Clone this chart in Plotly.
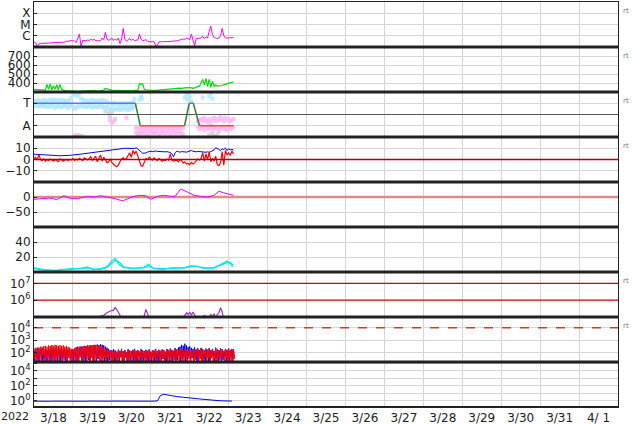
import plotly.graph_objects as go
from plotly.subplots import make_subplots
import pandas as pd

BASE = pd.Timestamp('2022-03-18')

def tx(hours):
    return [BASE + pd.Timedelta(hours=float(h)) for h in hours]

# ---------------- data ----------------
day_labels = ['3/18', '3/19', '3/20', '3/21', '3/22', '3/23', '3/24', '3/25', '3/26',
              '3/27', '3/28', '3/29', '3/30', '3/31', '4/ 1']
year_label = '2022'

# Panel 1: X-ray flux, log10(W/m2), hourly from 3/18 00:00
xray_log = [-6.55, -6.62, -6.95, -6.75, -6.68, -6.66, -6.66, -6.65, -6.66, -6.65,
            -6.64, -6.64, -6.63, -6.62, -6.62, -6.6, -6.6, -6.58, -6.56, -6.56,
            -6.48, -6.5, -6.44, -6.46, -6.5, -6.46, -6.6, -6.3, -5.85, -6.95,
            -6.42, -6.42, -6.44, -6.38, -6.42, -6.3, -6.4, -6.32, -6.43, -6.45,
            -6.42, -6.44, -6.2, -6.35, -5.7, -6.3, -6.4, -6.35, -6.2, -6.42,
            -6.3, -6.4, -6.2, -6.7, -6.3, -5.35, -6.3, -6.5, -6.35, -6.25,
            -6.4, -6.3, -6.45, -6.38, -6.4, -5.85, -6.3, -6.45, -6.4, -6.35,
            -6.48, -6.5, -6.55, -6.5, -6.52, -6.9, -6.85, -6.55, -6.5, -6.52,
            -6.55, -6.5, -6.53, -6.52, -6.5, -6.53, -6.5, -6.48, -6.45, -6.42,
            -6.35, -6.32, -6.3, -6.32, -6.2, -6.3, -6.35, -5.85, -6.3, -6.9,
            -6.25, -6.25, -6.22, -6.2, -6.05, -6.25, -6.1, -6.2, -5.6, -5.15,
            -5.9, -6.15, -6.2, -6.25, -6.2, -6.0, -5.35, -6.0, -6.2, -6.22,
            -6.2, -6.18, -6.17, -6.17]

# Panel 2: solar wind speed km/s, hourly
wind_speed = [330, 328, 326, 325, 322, 320, 318, 320,
              385, 330, 390, 325, 370, 330, 380, 325, 385, 330, 320,
              315, 312, 310, 312, 310, 308, 310, 312, 310, 308, 310, 312, 314, 312,
              310, 312, 314, 316, 318, 315, 312, 314,
              315, 318, 320, 340, 335, 322, 318, 316, 315, 318, 316, 314, 316, 318,
              316, 315, 314, 316, 318, 316, 315, 317, 318, 316,
              395, 385, 392, 330,
              325, 322, 320, 320, 318, 316, 318, 320, 318, 316, 318, 320, 322, 325,
              328, 330, 332, 335, 335, 338, 340, 342,
              340, 345, 342, 348, 345, 350, 346, 340, 345, 355, 360, 365,
              400, 440, 380, 450, 360, 440, 350, 420, 360, 380, 365,
              365, 368, 372, 380, 385, 392, 398, 405, 410, 412]

# Panel 3: IMF sector (T=+1, A=-1)
sector_hours = [0, 62.5, 65.5, 92.8, 95.7, 98.2, 102, 123]
sector_vals = [1, 1, -1, -1, 1, 1, -1, -1]
toward_a = [1.2, 1.1, 1.25, 1.15, 1.2, 1.1, 1.3, 1.2, 1.15, 1.25, 1.3, 1.2, 1.35, 1.25,
            1.2, 1.3, 1.15, 1.25, 1.3, 1.2, 1.1, 1.25, 1.3, 1.5, 1.9, 1.7, 1.8, 1.6,
            1.9, 1.4, 1.3, 1.2, 1.25, 1.15, 1.2, 1.1, 1.3, 1.2, 1.15, 1.25, 1.1, 1.2,
            1.3, 1.15, 1.2, 1.1, 1.0, 0.95, 1.0, 0.9, 1.05, 0.95, 0.9, 1.0, 0.85,
            0.95, 1.0, 0.9, 0.95, 1.0, 0.9, 1.1, 1.4]
toward_b = [0.8, 0.75, 0.85, 0.7, 0.8, 0.9, 0.75, 0.7, 0.8, 0.65, 0.75, 0.8, 0.7, 0.6,
            0.75, 0.8, 0.7, 0.65, 0.8, 0.75, 0.7, 0.6, 0.8, 0.9, 0.7, 0.5, 0.6, 0.8,
            0.7, 0.75, 0.8, 0.7, 0.65, 0.75, 0.8, 0.7, 0.6, 0.75, 0.7, 0.65, 0.8, 0.7,
            0.75, 0.6, 0.7, 0.65, 0.5, 0.45, 0.55, 0.4, 0.5, 0.45, 0.55, 0.4, 0.5,
            0.45, 0.6, 0.5, 0.4, 0.55, 0.5, 0.6, 0.7]
toward_extra_h = [65, 66, 66.5, 93, 94, 95, 96, 97, 104, 108, 109, 110]
toward_extra_v = [1.3, 1.6, 1.4, 1.5, 1.8, 1.3, 1.6, 1.2, 1.5, 1.6, 1.9, 1.4]
away1_start = 63
away1_a = [-1.2, -1.1, -1.15, -1.3, -1.1, -1.2, -1.15, -1.25, -1.1, -1.2, -1.3, -1.15,
           -1.1, -1.25, -1.2, -1.1, -1.3, -1.2, -1.15, -1.1, -1.25, -1.2, -1.1, -1.3,
           -1.15, -1.2, -1.1, -1.25, -1.2, -1.15]
away1_b = [-1.6, -1.7, -1.5, -1.8, -1.6, -1.5, -1.7, -1.6, -1.8, -1.5, -1.6, -1.7,
           -1.5, -1.6, -1.8, -1.7, -1.5, -1.6, -1.7, -1.5, -1.6, -1.8, -1.6, -1.5,
           -1.7, -1.6, -1.5, -1.7, -1.6, -1.8]
away2_start = 101
away2_a = [-0.6, -0.5, -0.4, -0.6, -0.3, -0.5, -0.7, -0.4, -0.6, -0.5, -0.3, -0.6,
           -0.4, -0.5, -0.2, -0.4, -0.6, -0.3, -0.5, -0.4, -0.6, -0.5, -0.4]
away2_b = [-1.1, -1.3, -1.0, -1.2, -1.4, -1.1, -1.3, -1.2, -1.0, -1.4, -1.2, -1.1,
           -1.3, -1.5, -1.2, -1.1, -1.3, -1.2, -1.4, -1.1, -1.3, -1.2, -1.1]
away_extra_h = [25, 26, 27, 47, 48, 49, 57]
away_extra_v = [-1.9, -1.85, -1.95, -0.5, -0.8, -0.6, -0.3]
gray_h = [28, 29, 30, 44, 46, 47, 48, 50, 64, 66, 67, 69, 71, 108, 110, 111, 113]
gray_v = [-1.85, -1.9, -1.95, 0.3, 0.1, -0.2, 0.2, -0.4, -1.7, -1.8, -1.6, -1.75,
          -1.85, -1.8, -1.7, -1.9, -1.75]

# Panel 4: IMF Bt (blue) and Bz (red), nT, hourly
bt = [4.7, 4.6, 4.5, 4.3, 4.1, 4.0, 3.8, 3.6, 3.5, 3.4, 3.4, 3.5, 3.3, 3.4, 3.5, 3.4,
      3.3, 3.4, 3.6, 3.5, 3.4, 3.6, 3.7, 3.8, 3.7, 3.9, 4.1, 4.3, 4.6, 4.8, 5.0, 5.2,
      5.4, 5.6, 5.8, 6.0, 6.2, 6.4, 6.6, 6.8, 7.0, 7.2, 7.3, 7.5, 7.6, 7.9, 8.4, 8.8,
      9.0, 9.2, 9.4, 9.5, 9.7, 9.8, 10.0, 10.1, 10.0, 10.0, 9.9, 9.8, 9.6, 9.4, 9.8,
      10.5, 9.5, 8.6, 6.8, 5.6, 5.4, 5.8, 6.6, 7.2, 7.4, 7.0, 7.3, 7.6, 7.2, 7.0, 7.4,
      7.2, 7.0, 6.8, 7.0, 6.6, 6.2, 5.0, 2.5, 6.0, 7.5, 7.0, 6.5, 7.0, 7.2, 6.8, 6.5,
      7.0, 7.6, 8.0, 7.4, 7.0, 6.8, 7.2, 7.0, 6.6, 6.2, 6.0, 6.4, 6.8, 6.5, 7.0, 7.5,
      8.5, 10.5, 10.0, 9.0, 8.0, 9.5, 8.8, 10.2, 8.0, 9.5, 8.6, 9.0, 8.4]
bz = [0.5, 2.0, -0.5, 4.5, 0.0, -1.0, 0.5, -1.5, 0.0, -1.0, 0.5, -0.5, -1.5, 0.0,
      -1.0, -2.0, 0.5, -0.5, -1.5, -0.5, 0.0, -1.0, 0.0, -0.5, 1.0, -1.0, 0.5, -0.5,
      1.0, 0.0, -1.0, 1.5, 0.5, -0.5, 1.0, 2.5, -1.0, 1.5, 3.0, -2.0, 1.0, 4.0, -1.5,
      2.0, 0.0, -3.0, -2.0, 0.5, -2.5, -4.5, -5.5, -6.5, -5.0, -2.0, 0.5, 1.5, 0.0,
      1.0, 3.0, 6.0, 2.0, 8.0, 5.0, 7.5, 3.0, -1.0, -5.5, -6.0, -2.0, 1.0, 0.0, 2.0,
      0.5, -0.5, 1.5, 0.0, -1.0, 1.0, 0.0, -1.5, -0.5, -1.0, 0.5, -0.5, 5.0, -0.5,
      -1.5, -1.0, -0.5, -2.0, 0.0, -1.0, -3.0, -2.0, -4.0, -3.5, -4.5, -2.5, -4.0,
      -3.0, -1.5, 0.5, -0.5, 1.0, 6.0, -1.5, 5.0, 0.0, 6.5, -2.0, 1.0, -1.5, 3.0,
      -4.5, -5.5, -3.0, 7.0, -5.0, 8.0, 4.0, 6.0, 3.5, 7.5, 5.0]

# Panel 5: Dst-like index (nT)
dst_hours = [0, 6, 10, 14, 18.5, 22.6, 26.7, 32.9, 37, 41, 45, 50, 54.5, 57.5, 61.6,
             65.8, 68.8, 72, 76, 80, 84, 87, 90.4, 94.5, 98.6, 102.7, 107, 111, 114,
             117, 120, 123]
dst_vals = [-7.8, -5.6, -3.3, -8.9, 4.4, -5.6, -5.6, 2.2, 0, 4.4, 0, -5.6, -13, -5.6,
            2.2, 5.6, 4.4, -7.8, 2.2, 5.6, 2.2, 2.2, 26.7, 16.7, 5.6, 2.2, 0, 5.6, 19,
            14, 11, 5.6]

# Panel 6: two cyan series
cyan_hours = [0, 3.9, 8, 14.2, 20.3, 24.4, 28.5, 32.7, 36.8, 40.9, 45, 48, 50.1, 52.2,
              55.3, 59.4, 63.5, 67.6, 70.7, 73.8, 80, 86.1, 92.3, 96.4, 100.5, 104.6,
              110.7, 115.9, 119, 121, 122.7]
cyan_a = [5.8, 4.0, 2.2, 2.7, 3.6, 4.9, 4.4, 6.7, 3.1, 4.4, 7.1, 14.7, 18.2, 10.2,
          5.8, 5.8, 4.9, 6.7, 10.2, 4.0, 3.6, 5.8, 4.9, 8.4, 7.1, 5.8, 4.9, 11.6,
          14.7, 10.2, 7.1]
cyan_b = [4.6, 3.2, 2.8, 2.0, 3.0, 4.0, 5.2, 5.6, 3.8, 3.6, 6.0, 11.0, 15.5, 13.5,
          7.0, 4.8, 5.6, 5.4, 8.2, 5.2, 4.4, 4.6, 5.8, 6.8, 8.0, 4.8, 5.8, 9.8, 12.5,
          13.0, 9.0]

# Panel 7: electron flux (log10)
elec_hours = [28, 29, 30, 31, 40, 41, 43, 45, 46, 47, 48, 49, 50, 51, 52, 53, 54,
              67, 68, 69, 70, 71, 92, 93, 94, 95, 96, 97, 98, 99, 100, 101,
              104, 105, 106, 107, 109, 110, 111, 112, 113, 114, 115, 116, 117]
elec_log = [4.8, 4.95, 5.02, 4.85, 4.8, 5.05, 5.1, 5.25, 5.3, 5.35, 5.4, 5.38, 5.56,
            5.45, 5.3, 5.1, 4.8, 4.8, 5.1, 5.45, 5.2, 4.9, 4.8, 5.1, 5.25, 5.15, 5.3,
            5.1, 5.3, 5.15, 5.05, 4.8, 4.8, 5.12, 4.95, 4.8, 5.15, 5.0, 5.2, 4.95,
            5.15, 5.25, 5.55, 5.3, 4.8]
elec_thresholds = [1e6, 1e7]

# Panel 8: particle counts, hourly peak / half-hour trough
blue_hi = [220, 180, 250, 200, 170, 230, 190, 210, 160, 240,
           200, 260, 180, 230, 210, 250, 190, 220, 170, 200,
           240, 180, 210, 160, 190, 230, 260, 300, 280, 320,
           290, 350, 310, 380, 330, 400, 360, 420, 380, 450,
           400, 480, 420, 380, 300, 250, 200, 160, 140, 180,
           150, 120, 170, 140, 200, 130, 160, 110, 180, 150,
           130, 170, 200, 140, 160, 120, 190, 150, 130, 170,
           140, 180, 120, 160, 150, 200, 130, 170, 140, 180,
           160, 120, 190, 150, 210, 170, 140, 230, 180, 260,
           300, 420, 350, 520, 380, 280, 320, 240, 200, 260,
           180, 220, 160, 240, 190, 150, 210, 170, 230, 160,
           200, 140, 250, 180, 160, 220, 190, 140, 200, 170,
           210, 160, 190, 180]
blue_lo = [12, 40, 10, 25, 60, 10, 30, 15, 50, 10, 20, 45, 10, 35, 12, 55, 10, 28, 40, 10,
           15, 50, 10, 30, 10, 45, 20, 10, 60, 12, 35, 10, 50, 25, 10, 40, 15, 70, 10, 30,
           55, 10, 40, 12, 30, 10, 25, 45, 10, 20, 10, 35, 12, 50, 10, 22, 40, 10, 30, 15,
           45, 10, 25, 10, 55, 12, 30, 10, 40, 20, 10, 35, 15, 50, 10, 28, 10, 45, 12, 30,
           20, 10, 50, 15, 35, 10, 40, 12, 25, 60, 10, 30, 45, 10, 20, 55, 10, 35, 15, 40,
           10, 25, 50, 12, 30, 10, 45, 20, 10, 35, 55, 10, 30, 15, 40, 10, 25, 50, 12, 30,
           10, 45, 20, 35]
red_hi = [200, 240, 180, 260, 300, 280, 320, 350, 300, 380,
          340, 400, 360, 420, 380, 350, 400, 330, 380, 300,
          350, 280, 250, 200, 180, 220, 260, 240, 300, 280,
          320, 300, 350, 330, 380, 360, 400, 380, 420, 400,
          380, 350, 300, 250, 200, 180, 150, 130, 160, 120,
          140, 110, 160, 130, 180, 120, 150, 100, 170, 140,
          120, 160, 180, 130, 150, 110, 170, 140, 120, 160,
          130, 170, 110, 150, 140, 180, 120, 160, 130, 170,
          150, 110, 180, 140, 200, 160, 130, 210, 170, 150,
          180, 220, 160, 200, 170, 140, 190, 150, 130, 170,
          160, 200, 140, 220, 170, 130, 190, 150, 210, 140,
          180, 130, 230, 170, 150, 200, 180, 130, 190, 160,
          200, 150, 180, 170]
red_lo = [30, 10, 45, 12, 20, 55, 10, 35, 10, 25, 50, 10, 30, 15, 40, 10, 60, 12, 25, 45,
          10, 35, 20, 10, 50, 15, 30, 10, 40, 25, 10, 55, 12, 35, 10, 45, 20, 10, 30, 50,
          10, 25, 15, 40, 10, 35, 55, 10, 20, 45, 12, 10, 30, 40, 15, 10, 50, 25, 10, 35,
          20, 45, 10, 30, 12, 40, 10, 55, 15, 25, 45, 10, 30, 12, 40, 10, 50, 20, 10, 35,
          10, 40, 15, 30, 10, 55, 25, 10, 45, 12, 35, 10, 20, 50, 10, 30, 15, 40, 10, 25,
          45, 10, 30, 15, 10, 50, 20, 35, 10, 40, 12, 30, 10, 45, 25, 10, 55, 15, 35, 10,
          40, 20, 10, 30]
count_threshold = 1e4

# Panel 9: proton flux, 2-hourly
proton = [0.85, 0.82, 0.88, 0.84, 0.86, 0.83, 0.87, 0.85, 0.82, 0.86, 0.88, 0.84, 0.85,
          0.83, 0.87, 0.86, 0.84, 0.88, 0.85, 0.83, 0.86, 0.87, 0.84, 0.85, 0.88, 0.86,
          0.84, 0.87, 0.85, 0.83, 0.86, 0.88, 0.85, 0.84, 0.87, 0.86, 0.85, 0.88,
          0.9, 5.0, 7.5, 6.0, 4.8, 4.2, 3.6, 3.2, 3.0, 2.6, 2.4, 2.2, 1.9, 1.7, 1.5,
          1.4, 1.25, 1.15, 1.05, 1.0, 0.95, 0.92, 0.9, 0.88]

# ---------------- figure ----------------
fig = make_subplots(rows=9, cols=1, shared_xaxes=True, vertical_spacing=0)
X0 = BASE
X1 = BASE + pd.Timedelta(days=15)

def hline(row, val, color, width, dash='solid'):
    fig.add_trace(go.Scatter(x=[X0, X1], y=[val, val], mode='lines',
                             line=dict(color=color, width=width, dash=dash),
                             hoverinfo='skip'), row=row, col=1)

# 1
fig.add_trace(go.Scatter(x=tx(range(len(xray_log))), y=[10 ** v for v in xray_log],
                         mode='lines', line=dict(color='#ff00ff', width=1)), row=1, col=1)
# 2
fig.add_trace(go.Scatter(x=tx(range(len(wind_speed))), y=wind_speed, mode='lines',
                         line=dict(color='#00dd00', width=1.2)), row=2, col=1)
# 3
mk = dict(symbol='square', size=4, opacity=0.85)
fig.add_trace(go.Scatter(x=tx(gray_h), y=gray_v, mode='markers',
                         marker=dict(color='#d4d4d4', **mk)), row=3, col=1)
for arr in (toward_a, toward_b):
    fig.add_trace(go.Scatter(x=tx(range(len(arr))), y=arr, mode='markers',
                             marker=dict(color='#b4e8fb', **mk)), row=3, col=1)
fig.add_trace(go.Scatter(x=tx(toward_extra_h), y=toward_extra_v, mode='markers',
                         marker=dict(color='#b4e8fb', **mk)), row=3, col=1)
for start, arr in ((away1_start, away1_a), (away1_start, away1_b),
                   (away2_start, away2_a), (away2_start, away2_b)):
    fig.add_trace(go.Scatter(x=tx([start + i for i in range(len(arr))]), y=arr,
                             mode='markers', marker=dict(color='#fdb8f2', **mk)),
                  row=3, col=1)
fig.add_trace(go.Scatter(x=tx(away_extra_h), y=away_extra_v, mode='markers',
                         marker=dict(color='#fdb8f2', **mk)), row=3, col=1)
hline(3, 0, '#555555', 1)
for i in range(len(sector_hours) - 1):
    v0, v1 = sector_vals[i], sector_vals[i + 1]
    if v0 == v1:
        col = '#5577ff' if v0 > 0 else '#ff4040'
    else:
        col = '#3d7a3d'
    fig.add_trace(go.Scatter(x=tx(sector_hours[i:i + 2]), y=sector_vals[i:i + 2],
                             mode='lines', line=dict(color=col, width=1.5)), row=3, col=1)
# 4
fig.add_trace(go.Scatter(x=tx(range(len(bt))), y=bt, mode='lines',
                         line=dict(color='#0000ff', width=1)), row=4, col=1)
fig.add_trace(go.Scatter(x=tx(range(len(bz))), y=bz, mode='lines',
                         line=dict(color='#ff0000', width=1.2)), row=4, col=1)
hline(4, 0, '#b00000', 1.5)
# 5
hline(5, 0, '#e08a8a', 2.5)
fig.add_trace(go.Scatter(x=tx(dst_hours), y=dst_vals, mode='lines',
                         line=dict(color='#ee00ee', width=1)), row=5, col=1)
# 6
fig.add_trace(go.Scatter(x=tx(cyan_hours), y=cyan_a, mode='lines',
                         line=dict(color='#00f0f0', width=1.2)), row=6, col=1)
fig.add_trace(go.Scatter(x=tx(cyan_hours), y=cyan_b, mode='lines',
                         line=dict(color='#00e0f0', width=1.2)), row=6, col=1)
# 7
for thr in elec_thresholds:
    hline(7, thr, '#cc0000', 1.3)
fig.add_trace(go.Scatter(x=tx(elec_hours), y=[10 ** v for v in elec_log], mode='lines',
                         line=dict(color='#9933cc', width=1.2)), row=7, col=1)
# 8
hline(8, count_threshold, '#dd3333', 1.5, 'dash')
for hi, lo, col in ((blue_hi, blue_lo, '#0000ff'), (red_hi, red_lo, '#ff0000')):
    hx, hy = [], []
    for i in range(len(hi)):
        hx += [i, i + 0.5]
        hy += [hi[i], lo[i]]
    fig.add_trace(go.Scatter(x=tx(hx), y=hy, mode='lines',
                             line=dict(color=col, width=1)), row=8, col=1)
# 9
fig.add_trace(go.Scatter(x=tx([2 * i for i in range(len(proton))]), y=proton,
                         mode='lines', line=dict(color='#0000ee', width=1)), row=9, col=1)

# ---------------- axes ----------------
noons = [BASE + pd.Timedelta(hours=12 + 24 * i) for i in range(len(day_labels))]
GRID = '#d6d6d6'
AX = '#222222'
fig.update_xaxes(range=[X0, X1], tickvals=noons, ticktext=day_labels, showgrid=False,
                 ticks='', showline=True, mirror=True, linecolor=AX, linewidth=1,
                 zeroline=False, showticklabels=False, automargin=False,
                 minor=dict(tick0=BASE, dtick=86400000, showgrid=True, gridcolor=GRID,
                            gridwidth=1, ticks=''))
fig.update_xaxes(showticklabels=True, tickfont=dict(size=12), row=9, col=1)
fig.update_yaxes(showline=True, mirror=True, linecolor=AX, linewidth=1, zeroline=False,
                 gridcolor=GRID, ticks='inside', ticklen=3, tickcolor=AX,
                 tickfont=dict(size=12), automargin=False)

sup = lambda e: '10<sup>%d</sup>' % e
fig.update_yaxes(row=1, col=1, type='log', range=[-7, -3], tickvals=[1e-6, 1e-5, 1e-4],
                 ticktext=['C', 'M', 'X'])
fig.update_yaxes(row=2, col=1, range=[300, 800], tickvals=[400, 500, 600, 700])
fig.update_yaxes(row=3, col=1, range=[-2, 2], tickvals=[-1, 1], ticktext=['A', 'T'])
fig.update_yaxes(row=4, col=1, range=[-20, 20], tickvals=[-10, 0, 10],
                 ticktext=['\u221210', '0', '10'])
fig.update_yaxes(row=5, col=1, range=[-100, 50], tickvals=[-50, 0],
                 ticktext=['\u221250', '0'])
fig.update_yaxes(row=6, col=1, range=[0, 60], tickvals=[20, 40])
fig.update_yaxes(row=7, col=1, type='log', range=[5, 7.68], tickvals=[1e6, 1e7],
                 ticktext=[sup(6), sup(7)], showgrid=False)
fig.update_yaxes(row=8, col=1, type='log', range=[1.24, 4.87],
                 tickvals=[1e2, 1e3, 1e4], ticktext=[sup(2), sup(3), sup(4)])
fig.update_yaxes(row=9, col=1, type='log', range=[-0.85, 5.2],
                 tickvals=[1, 10, 100, 1e3, 1e4, 1e5],
                 ticktext=[sup(0), '', sup(2), '', sup(4), ''])

shapes = []
for k in range(1, 9):
    yk = 1 - k / 9
    shapes.append(dict(type='line', xref='paper', yref='paper', x0=0, x1=1, y0=yk, y1=yk,
                       line=dict(color=AX, width=3)))
shapes.append(dict(type='line', xref='paper', yref='paper', x0=0, x1=1, y0=0, y1=0,
                   line=dict(color=AX, width=2)))

annotations = [dict(text=year_label, xref='paper', yref='paper', x=0, y=0,
                    xanchor='right', yanchor='top', xshift=-3, yshift=-1,
                    showarrow=False, font=dict(size=11))]
for k in (0, 1, 2, 3, 6, 7):
    annotations.append(dict(text='rt', xref='paper', yref='paper', x=1, y=1 - k / 9,
                            xanchor='left', yanchor='middle', xshift=3, yshift=-9,
                            showarrow=False, font=dict(size=7, color='#777777')))

fig.update_layout(width=634, height=424, margin=dict(l=34, r=16, t=2, b=17,
                                                     autoexpand=False),
                  plot_bgcolor='white', paper_bgcolor='white', showlegend=False,
                  font=dict(family='DejaVu Sans', size=12, color=AX),
                  shapes=shapes, annotations=annotations)

fig.write_html('out.html', config={'displayModeBar': False},
               post_script="document.body.style.margin='0px';"
                           "document.body.style.overflow='hidden';")
